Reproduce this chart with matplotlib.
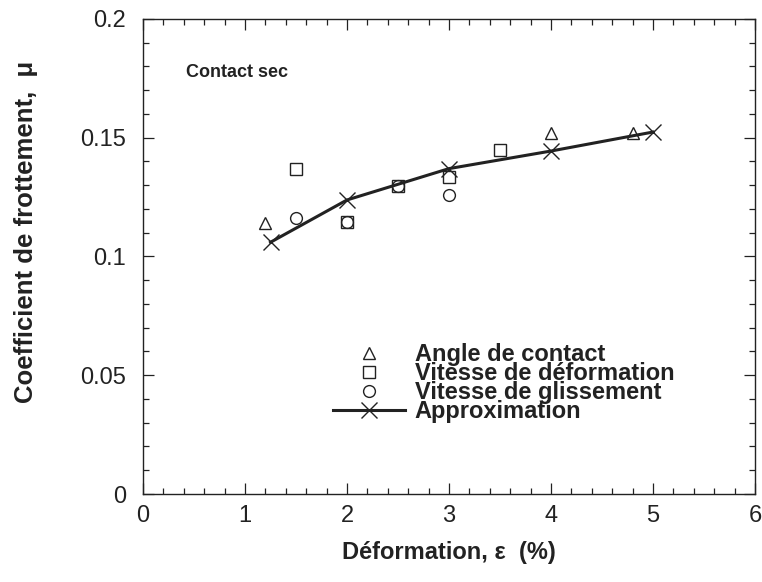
import numpy as np
import matplotlib
matplotlib.use('Agg')
from matplotlib import pyplot as plt
from matplotlib.ticker import MultipleLocator

plt.rcParams['font.family'] = ['Liberation Sans', 'DejaVu Sans']

# data
angle_x = [1.2, 4.0, 4.8]
angle_y = [0.114, 0.152, 0.152]

vdef_x = [1.5, 2.0, 2.5, 3.0, 3.5]
vdef_y = [0.137, 0.1145, 0.1295, 0.1335, 0.1448]

vgl_x = [1.5, 2.0, 2.5, 3.0]
vgl_y = [0.116, 0.1145, 0.1295, 0.1259]

approx_x = [1.25, 2.0, 3.0, 4.0, 5.0]
approx_y = [0.106, 0.1238, 0.137, 0.1444, 0.1524]

ink = '#222222'

fig = plt.figure(figsize=(7.62, 5.82), dpi=100)
ax = fig.add_axes([0.1877, 0.1512, 0.8031, 0.8162])

ax.plot(angle_x, angle_y, linestyle='none', marker='^', ms=8.5, mfc='none', mec=ink, mew=1.0,
        label='Angle de contact')
ax.plot(vdef_x, vdef_y, linestyle='none', marker='s', ms=9, mfc='none', mec=ink, mew=1.0,
        label='Vitesse de déformation')
ax.plot(vgl_x, vgl_y, linestyle='none', marker='o', ms=8.5, mfc='none', mec=ink, mew=1.0,
        label='Vitesse de glissement')
ax.plot(approx_x, approx_y, color=ink, lw=2.2, marker='x', ms=11, mew=1.0,
        label='Approximation')

ax.set_xlim(0, 6)
ax.set_ylim(0, 0.2)
ax.xaxis.set_major_locator(MultipleLocator(1))
ax.xaxis.set_minor_locator(MultipleLocator(0.2))
ax.yaxis.set_major_locator(MultipleLocator(0.05))
ax.yaxis.set_minor_locator(MultipleLocator(0.01))
ax.set_yticks([0, 0.05, 0.1, 0.15, 0.2])
ax.set_yticklabels(['0', '0.05', '0.1', '0.15', '0.2'])

ax.tick_params(which='both', direction='in', top=True, right=True, color=ink, width=0.9,
               labelsize=17, labelcolor=ink)
ax.tick_params(which='major', length=8)
ax.tick_params(which='minor', length=4)
ax.tick_params(axis='x', pad=8)
ax.tick_params(axis='y', pad=12)
for s in ax.spines.values():
    s.set_color(ink)
    s.set_linewidth(1.0)

ax.set_xlabel('Déformation, ε  (%)', fontsize=17, fontweight='bold', color=ink, labelpad=10)
ax.set_ylabel('Coefficient de frottement,  μ', fontsize=18.5, fontweight='bold', color=ink)
ax.yaxis.set_label_coords(-0.171, 0.552)

ax.text(0.070, 0.888, 'Contact sec', transform=ax.transAxes, fontsize=13, fontweight='bold',
        color=ink, va='center', ha='left')

leg = ax.legend(loc='center left', bbox_to_anchor=(0.31, 0.233), frameon=False,
                borderpad=0, borderaxespad=0, handlelength=3.05, handletextpad=0.42,
                labelspacing=-0.17, prop={'size': 17, 'weight': 'bold'})
for t in leg.get_texts():
    t.set_color(ink)

fig.savefig('out.png', dpi=100)
